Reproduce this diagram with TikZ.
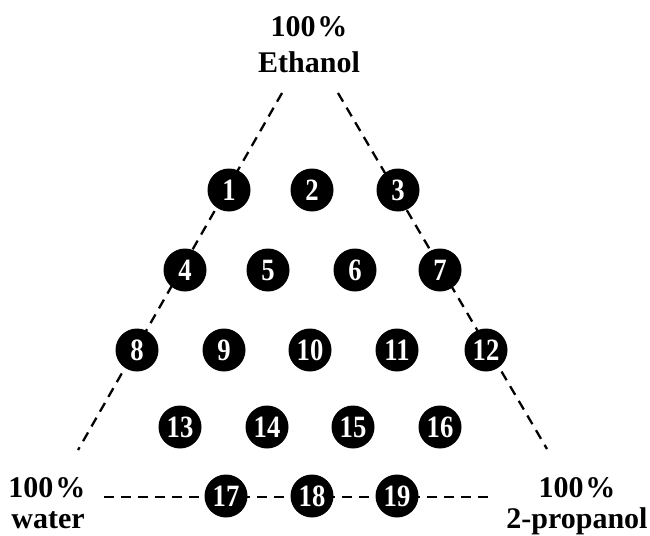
\documentclass[tikz,border=0pt]{standalone}
\usepackage{fontspec}
\setmainfont{Liberation Serif}
\newfontfamily\numfont{Liberation Serif}[FakeStretch=0.86]
\begin{document}
\begin{tikzpicture}[x=1pt,y=-1pt,
  dot/.style={circle,fill=black,minimum size=43pt,inner sep=0pt,text=white,
    font=\numfont\fontsize{31}{31}\selectfont\bfseries},
  lab/.style={anchor=base,font=\fontsize{30}{35}\selectfont\bfseries,inner sep=0pt},
  dash line/.style={line width=2.3pt,dash pattern=on 10pt off 7pt}]
\useasboundingbox (0,0) rectangle (650,535);
% line end points
\coordinate (tl) at (282,93);
\coordinate (bl) at (78,450);
\coordinate (tr) at (338,93);
\coordinate (br) at (547,449);
\coordinate (lb) at (104,497);
\coordinate (rb) at (490,497);
\draw[dash line] (tl) -- (bl);
\draw[dash line] (tr) -- (br);
\draw[dash line] (lb) -- (rb);
% dots
\node[dot] (n1) at (229,190) {1};
\node[dot] (n2) at (312,190) {2};
\node[dot] (n3) at (398,190) {3};
\node[dot] (n4) at (185,270) {4};
\node[dot] (n5) at (268,270) {5};
\node[dot] (n6) at (355,270) {6};
\node[dot] (n7) at (440,270) {7};
\node[dot] (n8) at (137,350) {8};
\node[dot] (n9) at (224,350) {9};
\node[dot] (n10) at (310,350) {10};
\node[dot] (n11) at (397,350) {11};
\node[dot] (n12) at (486,350) {12};
\node[dot] (n13) at (180,427) {13};
\node[dot] (n14) at (267,427) {14};
\node[dot] (n15) at (353,427) {15};
\node[dot] (n16) at (440,427) {16};
\node[dot] (n17) at (226,496) {17};
\node[dot] (n18) at (312,496) {18};
\node[dot] (n19) at (397,496) {19};
% labels
\node[lab] (t1) at (309,37) {100\kern2pt\%};
\node[lab] (t2) at (309,72) {Ethanol};
\node[lab] (l1) at (47,497) {100\kern2pt\%};
\node[lab] (l2) at (48,528) {water};
\node[lab] (r1) at (577,497) {100\kern2pt\%};
\node[lab] (r2) at (577,528) {2-propanol};
\end{tikzpicture}
\end{document}
